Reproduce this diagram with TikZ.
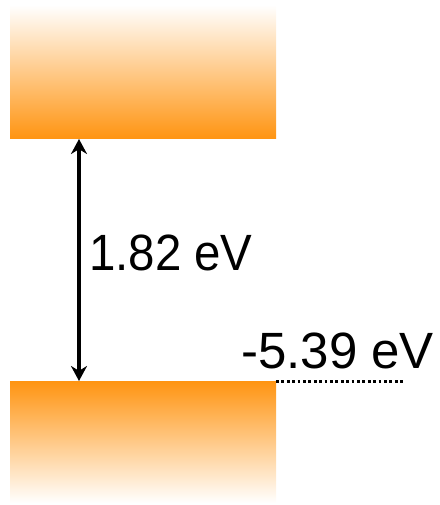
\documentclass[tikz,border=0pt]{standalone}
\usepackage{fontspec}
\setmainfont{Liberation Sans}
\usetikzlibrary{arrows.meta}
\definecolor{bandorange}{RGB}{255,148,17}
\begin{document}
\begin{tikzpicture}[x=1pt,y=-1pt,
  band/.style={minimum width=266pt, inner sep=0pt, outer sep=0pt, draw=none},
  lbl/.style={font=\fontsize{51}{51}\selectfont, inner sep=0pt},
  gaparrow/.style={line width=4pt, {Stealth[length=15pt,width=16pt]}-{Stealth[length=15pt,width=16pt]}},
  levelline/.style={line width=3pt, dash pattern=on 2.8pt off 2.6pt}]
\useasboundingbox (0,0) rectangle (439,505);
\node[band, minimum height=134pt, top color=white, bottom color=bandorange, anchor=north west] (cb) at (10,5) {};
\node[band, minimum height=122pt, top color=bandorange, bottom color=white, anchor=north west] (vb) at (10,381) {};
\coordinate (a1) at (79,139);
\coordinate (a2) at (79,381);
\draw[gaparrow] (a1) -- (a2);
\node[lbl, xscale=0.93, anchor=base west] (gap) at (89,270) {1.82 eV};
\node[lbl, anchor=base west] (lev) at (241,368) {-5.39 eV};
\coordinate (lend) at (404,381);
\draw[levelline] (vb.north east) -- (lend);
\end{tikzpicture}
\end{document}
